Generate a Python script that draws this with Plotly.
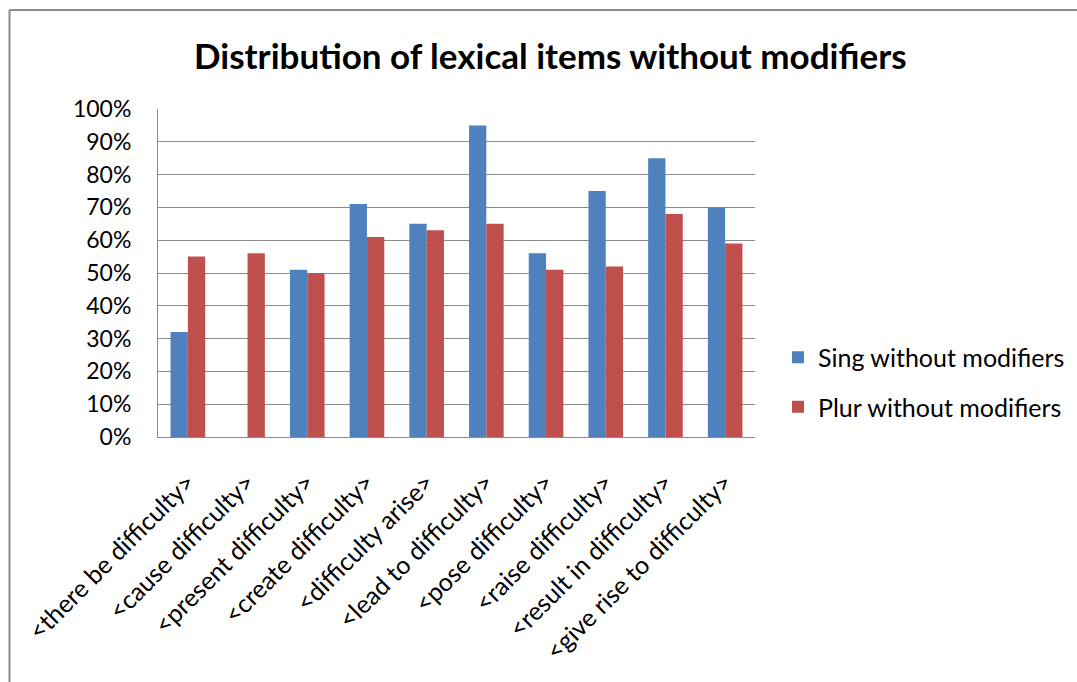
import plotly.graph_objects as go

# Lexical patterns on the category axis
categories = [
    "<there be difficulty>",
    "<cause difficulty>",
    "<present difficulty>",
    "<create difficulty>",
    "<difficulty arise>",
    "<lead to difficulty>",
    "<pose difficulty>",
    "<raise difficulty>",
    "<result in difficulty>",
    "<give rise to difficulty>",
]

# Share of occurrences without modifiers (fractions)
sing_without_modifiers = [0.32, 0.00, 0.51, 0.71, 0.65, 0.95, 0.56, 0.75, 0.85, 0.70]
plur_without_modifiers = [0.55, 0.56, 0.50, 0.61, 0.63, 0.65, 0.51, 0.52, 0.68, 0.59]

y_ticks = [0.0, 0.1, 0.2, 0.3, 0.4, 0.5, 0.6, 0.7, 0.8, 0.9, 1.0]
y_tick_labels = ["0%", "10%", "20%", "30%", "40%", "50%", "60%", "70%", "80%", "90%", "100%"]

title_text = "Distribution of lexical items without modifiers"

W, H = 1077, 682
PLOT_L, PLOT_R, PLOT_T, PLOT_B = 158, 755, 109, 437
FONT = "Lato, 'Open Sans', sans-serif"
GRID = "#8a8a8a"

fig = go.Figure()
fig.add_trace(go.Bar(
    x=categories, y=sing_without_modifiers, name="Sing without modifiers",
    marker=dict(color="#4F81BD", line=dict(width=0)), legendgroup="a",
))
fig.add_trace(go.Bar(
    x=categories, y=plur_without_modifiers, name="Plur without modifiers",
    marker=dict(color="#C0504D", line=dict(width=0)), legendgroup="b",
))

pw = PLOT_R - PLOT_L
ph = PLOT_B - PLOT_T


def px_x(p):
    return (p - PLOT_L) / pw


def px_y(p):
    return (PLOT_B - p) / ph


# Chart frame (left and top edges visible)
fig.add_shape(type="line", xref="paper", yref="paper",
              x0=px_x(9.5), x1=px_x(1090), y0=px_y(10), y1=px_y(10),
              line=dict(color="#8c8c8c", width=2))
fig.add_shape(type="line", xref="paper", yref="paper",
              x0=px_x(9.5), x1=px_x(9.5), y0=px_y(10), y1=px_y(700),
              line=dict(color="#8c8c8c", width=2))

fig.add_annotation(
    text="<b>" + title_text + "</b>", xref="paper", yref="paper",
    x=px_x(550), y=px_y(55), xanchor="center", yanchor="middle",
    showarrow=False, font=dict(family=FONT, size=35, color="#000000"),
)

fig.update_layout(
    width=W, height=H,
    margin=dict(l=PLOT_L, r=W - PLOT_R, t=PLOT_T, b=H - PLOT_B, autoexpand=False),
    paper_bgcolor="white", plot_bgcolor="white",
    barmode="group", bargap=0.42, bargroupgap=0,
    font=dict(family=FONT, size=24, color="#000000"),
    showlegend=True,
    legend=dict(
        x=px_x(778), y=px_y(382), xanchor="left", yanchor="middle",
        font=dict(family=FONT, size=25, color="#000000"),
        traceorder="grouped", tracegroupgap=14,
        bgcolor="rgba(0,0,0,0)",
    ),
)

fig.update_xaxes(
    type="category", tickangle=-45, showgrid=False,
    showline=True, linecolor=GRID, linewidth=1,
    ticks="", tickfont=dict(family=FONT, size=25, color="#000000"),
    ticklabelstandoff=20,
)
fig.update_yaxes(
    range=[0, 1], tickvals=y_ticks, ticktext=y_tick_labels,
    showgrid=True, gridcolor=GRID, gridwidth=1,
    showline=True, linecolor=GRID, linewidth=1,
    zeroline=False, ticks="", ticklabelstandoff=21,
    tickfont=dict(family=FONT, size=23, color="#000000"),
)

fig.write_html("out.html")
